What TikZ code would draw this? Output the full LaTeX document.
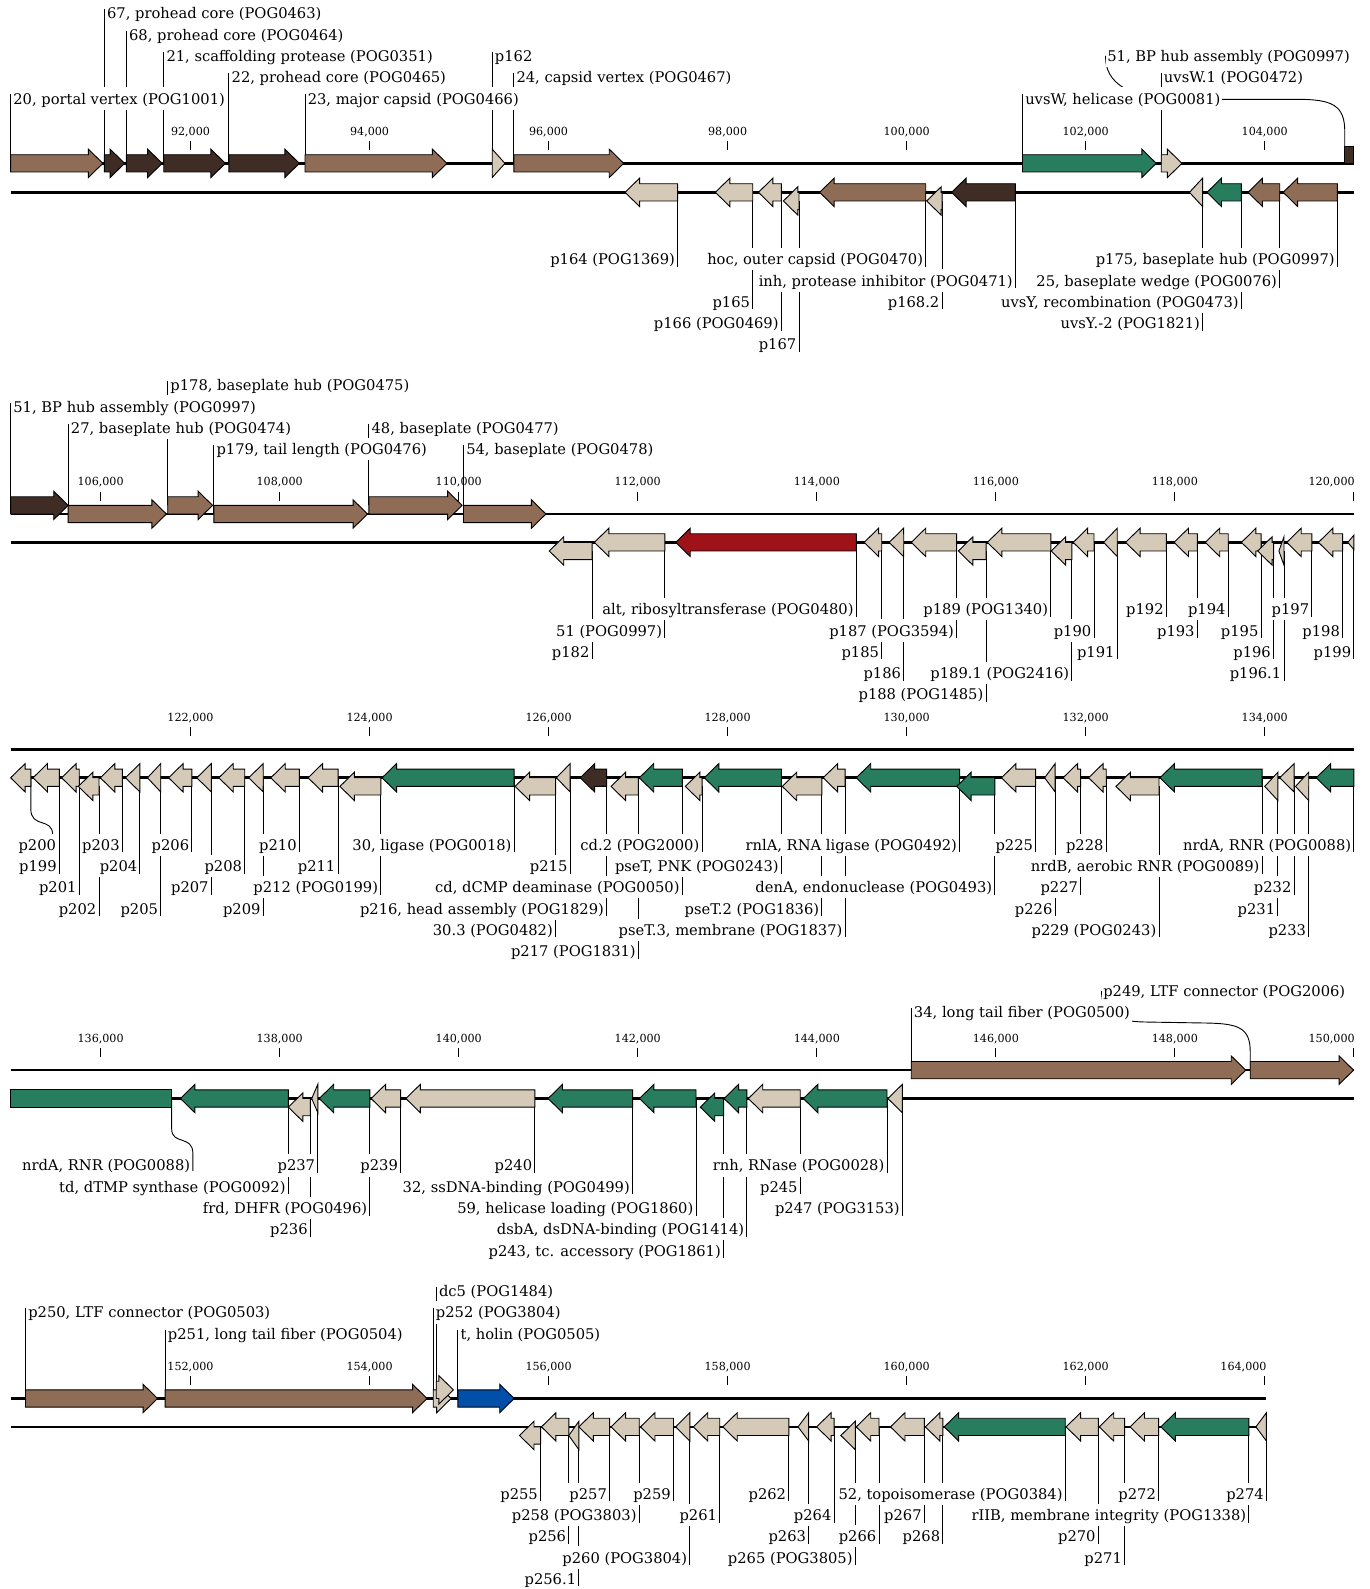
\documentclass[tikz,border=0pt]{standalone}
\usepackage{fontspec}
\setmainfont{DejaVu Serif}
\pgfdeclarelayer{bg}
\pgfsetlayers{bg,main}
\definecolor{clight}{RGB}{213,201,184}
\definecolor{cmid}{RGB}{143,108,86}
\definecolor{cdark}{RGB}{62,44,37}
\definecolor{cgreen}{RGB}{41,125,95}
\definecolor{cred}{RGB}{158,18,24}
\definecolor{cblue}{RGB}{0,80,170}
\newcommand{\fshape}[4]{%
  \pgfmathsetmacro{\hd}{min(14.3,#2-#1)}%
  \filldraw[genebody,fill=#4] (#1,#3-8.5) -- (#2-\hd,#3-8.5) -- (#2-\hd,#3-14) -- (#2,#3) -- (#2-\hd,#3+14) -- (#2-\hd,#3+8.5) -- (#1,#3+8.5) -- cycle;}
\newcommand{\rshape}[4]{%
  \pgfmathsetmacro{\hd}{min(14.3,#2-#1)}%
  \filldraw[genebody,fill=#4] (#2,#3-8.5) -- (#1+\hd,#3-8.5) -- (#1+\hd,#3-14) -- (#1,#3) -- (#1+\hd,#3+14) -- (#1+\hd,#3+8.5) -- (#2,#3+8.5) -- cycle;}
\newcommand{\fwdgene}[7]{%
  \fshape{#2}{#3}{#4}{#5}
  \coordinate (#1) at (#2,#4);
  \node[fwdlabel] (#1-l) at (#2+1,#6) {#7};
  \begin{pgfonlayer}{bg}\draw[leadline] (#1) -- ([yshift=4pt]#1 |- #1-l.west);\end{pgfonlayer}}
\newcommand{\revgene}[7]{%
  \rshape{#2}{#3}{#4}{#5}
  \coordinate (#1) at (#3,#4);
  \node[revlabel] (#1-l) at (#3-1,#6) {#7};
  \begin{pgfonlayer}{bg}\draw[leadline] (#1) -- ([yshift=-2pt]#1 |- #1-l.base);\end{pgfonlayer}}
\begin{document}
\begin{tikzpicture}[x=1pt, y=-1pt,
  genebody/.style={draw=black, line width=0.9pt},
  leadline/.style={line width=0.9pt},
  strand/.style={line width=2.6pt},
  tickmark/.style={line width=0.9pt},
  fwdlabel/.style={anchor=west, fill=white, inner xsep=1.5pt, inner ysep=3.5pt, text height=13pt, text depth=2pt, font=\fontsize{14.5}{16}\selectfont},
  revlabel/.style={anchor=east, fill=white, inner xsep=1.5pt, inner ysep=3.5pt, text height=13pt, text depth=2pt, font=\fontsize{14.5}{16}\selectfont},
  ticklabel/.style={inner sep=0pt, font=\fontsize{11}{12}\selectfont}]
\useasboundingbox (0,0) rectangle (1351,1568);

\draw[strand] (10.5,161.2) -- (1336.5,161.2);
\draw[strand] (10.5,189.8) -- (1336.5,189.8);
\foreach \x/\t [count=\i] in {188/92,364.7/94,541.3/96,718/98,894.7/100,1071.3/102,1248/104}{
  \draw[tickmark] (\x,139.2) -- (\x,148.2);
  \node[ticklabel] (ta\i) at (\x,130.2) {\t,000};}
\fwdgene{g20}{10.5}{101.5}{161.2}{cmid}{97.2}{20, portal vertex (POG1001)}
\fwdgene{g67}{103}{123}{161.2}{cdark}{13.2}{67, prohead core (POG0463)}
\fwdgene{g68}{124.7}{160}{161.2}{cdark}{34.2}{68, prohead core (POG0464)}
\fwdgene{g21}{161.6}{222.4}{161.2}{cdark}{55.2}{21, scaffolding protease (POG0351)}
\fwdgene{g22}{225.9}{295.4}{161.2}{cdark}{76.2}{22, prohead core (POG0465)}
\fwdgene{g23}{301}{441}{161.2}{cmid}{97.2}{23, major capsid (POG0466)}
\fwdgene{p162}{485.7}{498.3}{161.2}{clight}{55.2}{p162}
\fwdgene{g24}{507}{615.5}{161.2}{cmid}{76.2}{24, capsid vertex (POG0467)}
\fwdgene{uvsW}{1009}{1141}{161.2}{cgreen}{97.2}{uvsW, helicase (POG0081)}
\fwdgene{uvsWa}{1145.9}{1166.3}{161.2}{clight}{76.2}{uvsW.1 (POG0472)}
\filldraw[genebody,fill=cdark] (1327,144.7) rectangle (1336,161.2);
\coordinate (g51a) at (1327,152);
\node[fwdlabel] (g51a-l) at (1091,55.2) {51, BP hub assembly (POG0997)};
\begin{pgfonlayer}{bg}
\draw[leadline] (g51a) -- (1327,130) .. controls (1327,104) and (1315,98) .. (1280,98) -- (1165,98) .. controls (1115,98) and (1090,82) .. (g51a-l.west);
\end{pgfonlayer}
\revgene{p164}{616.8}{668.7}{189.8}{clight}{255.8}{p164 (POG1369)}
\revgene{p165}{705.9}{742.8}{189.8}{clight}{297.8}{p165}
\revgene{p166}{748.4}{771}{189.8}{clight}{318.8}{p166 (POG0469)}
\revgene{p167}{773}{788.4}{198.3}{clight}{339.8}{p167}
\revgene{hoc}{808.8}{913.5}{189.8}{cmid}{255.8}{hoc, outer capsid (POG0470)}
\revgene{p1682}{914.4}{929.6}{198.3}{clight}{297.8}{p168.2}
\revgene{inh}{939}{1002}{189.8}{cdark}{276.8}{inh, protease inhibitor (POG0471)}
\revgene{uvsYb}{1173.7}{1186.7}{189.8}{clight}{318.8}{uvsY.-2 (POG1821)}
\revgene{uvsY}{1191}{1225}{189.8}{cgreen}{297.8}{uvsY, recombination (POG0473)}
\revgene{g25}{1231.5}{1262.8}{189.8}{cmid}{276.8}{25, baseplate wedge (POG0076)}
\revgene{p175}{1266.2}{1319.7}{189.8}{cmid}{255.8}{p175, baseplate hub (POG0997)}

\draw[strand] (10.5,507.2) -- (1336.5,507.2);
\draw[strand] (10.5,535.2) -- (1336.5,535.2);
\foreach \x/\t [count=\i] in {99.3/106,276/108,452.7/110,629.3/112,806/114,982.7/116,1159.3/118}{
  \draw[tickmark] (\x,485.2) -- (\x,494.2);
  \node[ticklabel] (tb\i) at (\x,476.2) {\t,000};}
\draw[tickmark] (1336,485.2) -- (1336,494.2);
\node[ticklabel,anchor=east] (tb8) at (1337,476.2) {120,000};
\fwdgene{g51}{10.5}{67.3}{498.7}{cdark}{401.2}{51, BP hub assembly (POG0997)}
\fwdgene{g27}{67.3}{164.2}{507.2}{cmid}{422.2}{27, baseplate hub (POG0474)}
\fwdgene{p178}{165.5}{209.8}{498.7}{cmid}{380.2}{p178, baseplate hub (POG0475)}
\fwdgene{p179}{211}{362.7}{507.2}{cmid}{443.2}{p179, tail length (POG0476)}
\fwdgene{g48}{364}{456}{498.7}{cmid}{422.2}{48, baseplate (POG0477)}
\fwdgene{g54}{457.4}{538.7}{507.2}{cmid}{443.2}{54, baseplate (POG0478)}
\revgene{p182}{542}{584.3}{543.7}{clight}{643.2}{p182}
\revgene{g51b}{586.5}{656}{535.2}{clight}{622.2}{51 (POG0997)}
\revgene{alt}{666.8}{845}{535.2}{cred}{601.2}{alt, ribosyltransferase (POG0480)}
\revgene{p185}{852.7}{870.1}{535.2}{clight}{643.2}{p185}
\revgene{p186}{877.4}{891.8}{535.2}{clight}{664.2}{p186}
\revgene{p187}{899.2}{944}{535.2}{clight}{622.2}{p187 (POG3594)}
\revgene{p188}{945.7}{973}{543.7}{clight}{685.2}{p188 (POG1485)}
\revgene{p189}{974.3}{1036.9}{535.2}{clight}{601.2}{p189 (POG1340)}
\revgene{p1891}{1037.3}{1057.7}{543.7}{clight}{664.2}{p189.1 (POG2416)}
\revgene{p190}{1059}{1079.5}{535.2}{clight}{622.2}{p190}
\revgene{p191}{1089}{1102.5}{535.2}{clight}{643.2}{p191}
\revgene{p192}{1110.7}{1151}{535.2}{clight}{601.2}{p192}
\revgene{p193}{1158.5}{1181.5}{535.2}{clight}{622.2}{p193}
\revgene{p194}{1189.3}{1212}{535.2}{clight}{601.2}{p194}
\revgene{p195}{1225}{1244.5}{535.2}{clight}{622.2}{p195}
\revgene{p196}{1241}{1256.7}{543.7}{clight}{643.2}{p196}
\revgene{p1961}{1262}{1267}{543.7}{clight}{664.2}{p196.1}
\revgene{p197}{1269.7}{1294.5}{535.2}{clight}{601.2}{p197}
\revgene{p198}{1301}{1324.9}{535.2}{clight}{622.2}{p198}
\filldraw[genebody,fill=clight] (1330,535.2) -- (1336,528) -- (1336,542.4) -- cycle;
\coordinate (p199a) at (1336,535.2);
\node[revlabel] (p199a-l) at (1335,643.2) {p199};
\begin{pgfonlayer}{bg}\draw[leadline] (p199a) -- ([yshift=-2pt]p199a |- p199a-l.base);\end{pgfonlayer}

\draw[strand] (10.5,739.5) -- (1336.5,739.5);
\draw[strand] (10.5,767.5) -- (1336.5,767.5);
\foreach \x/\t [count=\i] in {188/122,364.7/124,541.3/126,718/128,894.7/130,1071.3/132,1248/134}{
  \draw[tickmark] (\x,717.5) -- (\x,726.5);
  \node[ticklabel] (tc\i) at (\x,708.5) {\t,000};}
\rshape{10.5}{30.4}{767.5}{clight}
\coordinate (p200) at (30.4,767.5);
\node[revlabel] (p200-l) at (57,833.5) {p200};
\begin{pgfonlayer}{bg}\draw[leadline] (p200) -- (30.4,798) .. controls (30.4,818) and (52,806) .. (52,824);\end{pgfonlayer}
\revgene{p199}{32.6}{58.6}{767.5}{clight}{854.5}{p199}
\revgene{p201}{60.8}{78.2}{767.5}{clight}{875.5}{p201}
\revgene{p202}{77.3}{97.7}{776}{clight}{896.5}{p202}
\revgene{p203}{99}{120.8}{767.5}{clight}{833.5}{p203}
\revgene{p204}{123.8}{138.1}{767.5}{clight}{854.5}{p204}
\revgene{p205}{145.5}{158.6}{767.5}{clight}{896.5}{p205}
\revgene{p206}{166.4}{189.4}{767.5}{clight}{833.5}{p206}
\revgene{p207}{194.2}{208.5}{767.5}{clight}{875.5}{p207}
\revgene{p208}{215.9}{241.5}{767.5}{clight}{854.5}{p208}
\revgene{p209}{245.4}{259.8}{767.5}{clight}{896.5}{p209}
\revgene{p210}{267.2}{295.4}{767.5}{clight}{833.5}{p210}
\revgene{p211}{304}{333.6}{767.5}{clight}{854.5}{p211}
\revgene{p212}{335.4}{375.8}{776}{clight}{875.5}{p212 (POG0199)}
\revgene{g30}{377}{507.4}{767.5}{cgreen}{833.5}{30, ligase (POG0018)}
\revgene{g303}{508.3}{548.2}{776}{clight}{917.5}{30.3 (POG0482)}
\revgene{p215}{549}{562.6}{767.5}{clight}{854.5}{p215}
\revgene{p216}{572.5}{598.6}{767.5}{cdark}{896.5}{p216, head assembly (POG1829)}
\revgene{p217}{603}{630}{776}{clight}{938.5}{p217 (POG1831)}
\revgene{cd}{630.8}{673.3}{767.5}{cgreen}{875.5}{cd, dCMP deaminase (POG0050)}
\revgene{cd2}{676.3}{692.8}{776}{clight}{833.5}{cd.2 (POG2000)}
\revgene{pseT}{695}{771}{767.5}{cgreen}{854.5}{pseT, PNK (POG0243)}
\revgene{pseTb}{771.9}{811}{776}{clight}{896.5}{pseT.2 (POG1836)}
\revgene{pseTc}{812.3}{834}{767.5}{clight}{917.5}{pseT.3, membrane (POG1837)}
\revgene{rnlA}{844.9}{947}{767.5}{cgreen}{833.5}{rnlA, RNA ligase (POG0492)}
\revgene{denA}{944}{981.7}{776}{cgreen}{875.5}{denA, endonuclease (POG0493)}
\revgene{p225}{988.2}{1022}{767.5}{clight}{833.5}{p225}
\revgene{p226}{1030.8}{1041.2}{767.5}{clight}{896.5}{p226}
\revgene{p227}{1049}{1066.4}{767.5}{clight}{875.5}{p227}
\revgene{p228}{1074.2}{1091.6}{767.5}{clight}{833.5}{p228}
\revgene{p229}{1101.2}{1143.7}{776}{clight}{917.5}{p229 (POG0243)}
\revgene{nrdB}{1144.6}{1245.4}{767.5}{cgreen}{854.5}{nrdB, aerobic RNR (POG0089)}
\revgene{p231}{1248}{1261}{776}{clight}{896.5}{p231}
\revgene{p232}{1262.8}{1277}{767.5}{clight}{875.5}{p232}
\revgene{p233}{1278.4}{1291.4}{776}{clight}{917.5}{p233}
\revgene{nrdA}{1298.8}{1336}{767.5}{cgreen}{833.5}{nrdA, RNR (POG0088)}

\draw[strand] (10.5,1056) -- (1336.5,1056);
\draw[strand] (10.5,1084) -- (1336.5,1084);
\foreach \x/\t [count=\i] in {99.3/136,276/138,452.7/140,629.3/142,806/144,982.7/146,1159.3/148}{
  \draw[tickmark] (\x,1034) -- (\x,1043);
  \node[ticklabel] (td\i) at (\x,1025) {\t,000};}
\draw[tickmark] (1336,1034) -- (1336,1043);
\node[ticklabel,anchor=east] (td8) at (1337,1025) {150,000};
\filldraw[genebody,fill=cgreen] (10.5,1075.5) rectangle (169.4,1092.5);
\coordinate (nrdAb) at (169.4,1084);
\node[revlabel] (nrdAb-l) at (189.3,1150) {nrdA, RNR (POG0088)};
\begin{pgfonlayer}{bg}\draw[leadline] (nrdAb) -- (169.4,1114) .. controls (169.4,1130) and (190.3,1120) .. (190.3,1138) -- (190.3,1155.5);\end{pgfonlayer}
\revgene{td}{178}{284.5}{1084}{cgreen}{1171}{td, dTMP synthase (POG0092)}
\revgene{p236}{284.5}{306.3}{1092.5}{clight}{1213}{p236}
\revgene{p237}{307.6}{313.6}{1084}{clight}{1150}{p237}
\revgene{frd}{315}{365}{1084}{cgreen}{1192}{frd, DHFR (POG0496)}
\revgene{p239}{366.2}{395.3}{1084}{clight}{1150}{p239}
\revgene{p240}{400.5}{527.8}{1084}{clight}{1150}{p240}
\revgene{g32}{540.8}{624.2}{1084}{cgreen}{1171}{32, ssDNA-binding (POG0499)}
\revgene{g59}{631}{686.8}{1084}{cgreen}{1192}{59, helicase loading (POG1860)}
\revgene{p243}{691}{714}{1092.5}{cgreen}{1234}{p243, tc. accessory (POG1861)}
\revgene{dsbA}{714.5}{737}{1084}{cgreen}{1213}{dsbA, dsDNA-binding (POG1414)}
\revgene{p245}{738.4}{789.7}{1084}{clight}{1171}{p245}
\revgene{rnh}{792.7}{875.3}{1084}{cgreen}{1150}{rnh, RNase (POG0028)}
\revgene{p247}{876.1}{890.5}{1084}{clight}{1192}{p247 (POG3153)}
\fwdgene{g34}{899.2}{1229.3}{1056}{cmid}{999}{34, long tail fiber (POG0500)}
\fshape{1233.7}{1335.7}{1056}{cmid}
\coordinate (p249) at (1233.7,1056);
\node[fwdlabel] (p249-l) at (1087,978) {p249, LTF connector (POG2006)};
\begin{pgfonlayer}{bg}\draw[leadline] (p249) -- (1233.7,1038) .. controls (1233.7,1014) and (1222,1010) .. (1190,1009.5) -- (1130,1008.5) .. controls (1100,1008) and (1087,1000) .. (p249-l.west);\end{pgfonlayer}

\draw[strand] (10.5,1380) -- (1249.7,1380);
\draw[strand] (10.5,1408) -- (1249.7,1408);
\foreach \x/\t [count=\i] in {188/152,364.7/154,541.3/156,718/158,894.7/160,1071.3/162}{
  \draw[tickmark] (\x,1358) -- (\x,1367);
  \node[ticklabel] (te\i) at (\x,1349) {\t,000};}
\draw[tickmark] (1248,1358) -- (1248,1367);
\node[ticklabel,anchor=east] (te7) at (1250,1349) {164,000};
\fwdgene{p250}{25.2}{155.5}{1380}{cmid}{1295}{p250, LTF connector (POG0503)}
\fwdgene{p251}{163}{421.4}{1380}{cmid}{1316}{p251, long tail fiber (POG0504)}
\fwdgene{p252}{427.5}{445.2}{1380}{clight}{1295}{p252 (POG3804)}
\fwdgene{dc5}{430.5}{447.4}{1371.5}{clight}{1274}{dc5 (POG1484)}
\fwdgene{holin}{451.8}{507.4}{1380}{cblue}{1316}{t, holin (POG0505)}
\revgene{p255}{512.6}{533.4}{1416.5}{clight}{1474}{p255}
\revgene{p256}{534.3}{561.3}{1408}{clight}{1516}{p256}
\revgene{p2561}{561.3}{571.2}{1416.5}{clight}{1558}{p256.1}
\revgene{p257}{571.2}{601.6}{1408}{clight}{1474}{p257}
\revgene{p258}{603}{630.8}{1408}{clight}{1495}{p258 (POG3803)}
\revgene{p259}{632}{664.6}{1408}{clight}{1474}{p259}
\revgene{p260}{666.8}{680.7}{1408}{clight}{1537}{p260 (POG3804)}
\revgene{p261}{684.1}{710.2}{1408}{clight}{1495}{p261}
\revgene{p262}{713.2}{778.4}{1408}{clight}{1474}{p262}
\revgene{p263}{787.5}{798}{1408}{clight}{1516}{p263}
\revgene{p264}{805.8}{823.1}{1408}{clight}{1495}{p264}
\revgene{p265}{829.7}{844}{1416.5}{clight}{1537}{p265 (POG3805)}
\revgene{p266}{844.9}{867.4}{1408}{clight}{1516}{p266}
\revgene{p267}{878.7}{912.2}{1408}{clight}{1495}{p267}
\revgene{p268}{913.1}{930.4}{1408}{clight}{1516}{p268}
\revgene{g52}{931.7}{1051.2}{1408}{cgreen}{1474}{52, topoisomerase (POG0384)}
\revgene{p270}{1052}{1083.8}{1408}{clight}{1516}{p270}
\revgene{p271}{1084.7}{1109.8}{1408}{clight}{1537}{p271}
\revgene{p272}{1115.1}{1143.3}{1408}{clight}{1474}{p272}
\revgene{rIIB}{1145.5}{1232.4}{1408}{cgreen}{1495}{rIIB, membrane integrity (POG1338)}
\revgene{p274}{1239.3}{1249.7}{1408}{clight}{1474}{p274}
\end{tikzpicture}
\end{document}
